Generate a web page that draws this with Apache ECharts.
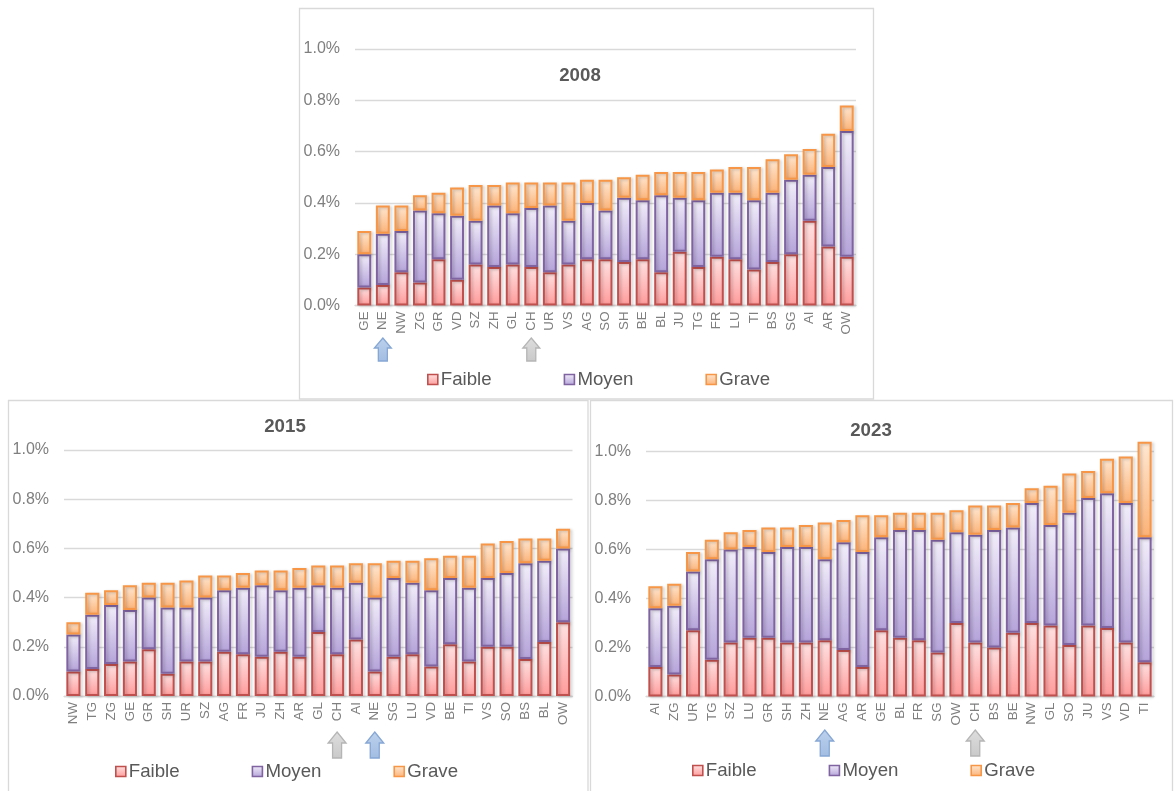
<!DOCTYPE html>
<html>
<head>
<meta charset="utf-8">
<script src="https://cdn.jsdelivr.net/npm/echarts@6/dist/echarts.min.js"></script>
<style>
  html, body { margin: 0; padding: 0; background: #ffffff; }
  #chart { width: 1176px; height: 791px; }
</style>
</head>
<body>
<div id="chart"></div>
<script>
// Share of the population (%) by severity level, per canton, sorted by total.
const severities = ['Faible', 'Moyen', 'Grave'];

const cantons2008 = ['GE','NE','NW','ZG','GR','VD','SZ','ZH','GL','CH','UR','VS','AG','SO','SH','BE','BL','JU','TG','FR','LU','TI','BS','SG','AI','AR','OW'];
const faible2008  = [0.07,0.08,0.13,0.09,0.18,0.10,0.16,0.15,0.16,0.15,0.13,0.16,0.18,0.18,0.17,0.18,0.13,0.21,0.15,0.19,0.18,0.14,0.17,0.20,0.33,0.23,0.19];
const moyen2008   = [0.13,0.20,0.16,0.28,0.18,0.25,0.17,0.24,0.20,0.23,0.26,0.17,0.22,0.19,0.25,0.23,0.30,0.21,0.26,0.25,0.26,0.27,0.27,0.29,0.18,0.31,0.49];
const grave2008   = [0.09,0.11,0.10,0.06,0.08,0.11,0.14,0.08,0.12,0.10,0.09,0.15,0.09,0.12,0.08,0.10,0.09,0.10,0.11,0.09,0.10,0.13,0.13,0.10,0.10,0.13,0.10];

const cantons2015 = ['NW','TG','ZG','GE','GR','SH','UR','SZ','AG','FR','JU','ZH','AR','GL','CH','AI','NE','SG','LU','VD','BE','TI','VS','SO','BS','BL','OW'];
const faible2015  = [0.10,0.11,0.13,0.14,0.19,0.09,0.14,0.14,0.18,0.17,0.16,0.18,0.16,0.26,0.17,0.23,0.10,0.16,0.17,0.12,0.21,0.14,0.20,0.20,0.15,0.22,0.30];
const moyen2015   = [0.15,0.22,0.24,0.21,0.21,0.27,0.22,0.26,0.25,0.27,0.29,0.25,0.28,0.19,0.27,0.23,0.30,0.32,0.29,0.31,0.27,0.30,0.28,0.30,0.39,0.33,0.30];
const grave2015   = [0.05,0.09,0.06,0.10,0.06,0.10,0.11,0.09,0.06,0.06,0.06,0.08,0.08,0.08,0.09,0.08,0.14,0.07,0.09,0.13,0.09,0.13,0.14,0.13,0.10,0.09,0.08];

const cantons2023 = ['AI','ZG','UR','TG','SZ','LU','GR','SH','ZH','NE','AG','AR','GE','BL','FR','SG','OW','CH','BS','BE','NW','GL','SO','JU','VS','VD','TI'];
const faible2023  = [0.12,0.09,0.27,0.15,0.22,0.24,0.24,0.22,0.22,0.23,0.19,0.12,0.27,0.24,0.23,0.18,0.30,0.22,0.20,0.26,0.30,0.29,0.21,0.29,0.28,0.22,0.14];
const moyen2023   = [0.24,0.28,0.24,0.41,0.38,0.37,0.35,0.39,0.39,0.33,0.44,0.47,0.38,0.44,0.45,0.46,0.37,0.44,0.48,0.43,0.49,0.41,0.54,0.52,0.55,0.57,0.51];
const grave2023   = [0.09,0.09,0.08,0.08,0.07,0.07,0.10,0.08,0.09,0.15,0.09,0.15,0.09,0.07,0.07,0.11,0.09,0.12,0.10,0.10,0.06,0.16,0.16,0.11,0.14,0.19,0.39];

// Value axis ticks (percent)
const yMin = 0, yMax = 1.0, yStep = 0.2;

// Cantons flagged with arrows under the axis
const flagged = { blue: 'NE', grey: 'CH' };

const panels = [
  { title: '2008', cats: cantons2008, vals: [faible2008, moyen2008, grave2008],
    grid: { left: 355, top: 49, width: 501, height: 256.5 },
    frame: [299.5, 8.5, 574, 390.5], titleX: 580, titleY: 76,
    legendLeft: 422, legendTop: 365, arrowTop: 338, arrow: { w: 17, h: 23, head: 10, shaft: 9 } },
  { title: '2015', cats: cantons2015, vals: [faible2015, moyen2015, grave2015],
    grid: { left: 64, top: 450, width: 508.5, height: 246 },
    frame: [8.5, 400.5, 579.5, 400], titleX: 285, titleY: 427,
    legendLeft: 110, legendTop: 757, arrowTop: 732, arrow: { w: 18, h: 26, head: 11, shaft: 9 } },
  { title: '2023', cats: cantons2023, vals: [faible2023, moyen2023, grave2023],
    grid: { left: 646, top: 451.5, width: 508, height: 245 },
    frame: [590.5, 400.5, 582, 400], titleX: 871, titleY: 431,
    legendLeft: 687, legendTop: 756, arrowTop: 730, arrow: { w: 18, h: 26, head: 11, shaft: 9 } }
];

function vgrad(top, bottom) {
  return new echarts.graphic.LinearGradient(0, 0, 0, 1, [
    { offset: 0, color: top }, { offset: 1, color: bottom }
  ]);
}
const look = {
  Faible: { fill: vgrad('#ffe2e2', '#ff9b9b'), border: '#c0504d' },
  Moyen:  { fill: vgrad('#f2eefa', '#b4a3d9'), border: '#8064a2' },
  Grave:  { fill: vgrad('#ffe8d3', '#fbb277'), border: '#f79646' }
};

const GRID_GREY = '#d9d9d9';
const TEXT_GREY = '#7f7f7f';
const FONT = '"Liberation Sans", Arial, sans-serif';

const option = {
  animation: false,
  backgroundColor: '#ffffff',
  textStyle: { fontFamily: FONT },
  grid: panels.map(p => Object.assign({ containLabel: false }, p.grid)),
  xAxis: panels.map((p, i) => ({
    type: 'category', gridIndex: i, data: p.cats,
    axisLine: { lineStyle: { color: GRID_GREY, width: 1.3 } },
    axisTick: { show: false },
    axisLabel: { interval: 0, rotate: 90, margin: 6, fontSize: 13.3, color: TEXT_GREY, fontFamily: FONT }
  })),
  yAxis: panels.map((p, i) => ({
    type: 'value', gridIndex: i, min: yMin, max: yMax, interval: yStep,
    axisLine: { show: false }, axisTick: { show: false },
    splitLine: { lineStyle: { color: GRID_GREY, width: 1.3 } },
    axisLabel: { margin: 15, fontSize: 16, color: TEXT_GREY, fontFamily: FONT,
                 formatter: v => v.toFixed(1) + '%' }
  })),
  legend: panels.map(p => ({
    left: p.legendLeft, top: p.legendTop,
    data: severities, icon: 'rect', itemWidth: 10, itemHeight: 10, itemGap: 72,
    itemStyle: { borderWidth: 1.6, shadowBlur: 0, shadowOffsetX: 0, shadowOffsetY: 0 },
    textStyle: { fontSize: 18.67, color: '#595959', fontFamily: FONT, padding: [0, 0, 0, -2] },
    selectedMode: false
  })),
  series: []
};

panels.forEach((p, i) => {
  severities.forEach((name, k) => {
    option.series.push({
      type: 'bar', name, stack: 'total' + i,
      xAxisIndex: i, yAxisIndex: i,
      data: p.vals[k],
      barCategoryGap: '25%',
      clip: false,
      emphasis: { disabled: true },
      itemStyle: {
        color: look[name].fill, borderColor: look[name].border, borderWidth: 2,
        shadowColor: 'rgba(0,0,0,0.22)', shadowBlur: 3, shadowOffsetX: 2, shadowOffsetY: 1
      }
    });
  });
});

const chart = echarts.init(document.getElementById('chart'), null, { renderer: 'canvas' });
chart.setOption(option);

// Frames, titles and the arrows under the flagged cantons
function upArrow(cx, top, a, fill, stroke) {
  const hw = a.w / 2, sw = a.shaft / 2;
  return {
    type: 'polygon', z: 10,
    shape: { points: [
      [cx, top], [cx + hw, top + a.head], [cx + sw, top + a.head], [cx + sw, top + a.h],
      [cx - sw, top + a.h], [cx - sw, top + a.head], [cx - hw, top + a.head]
    ] },
    style: { fill, stroke, lineWidth: 1.3 }
  };
}

const graphics = [];
panels.forEach((p, i) => {
  const [fx, fy, fw, fh] = p.frame;
  graphics.push({ type: 'rect', z: -1, silent: true,
    shape: { x: fx, y: fy, width: fw, height: fh },
    style: { fill: '#ffffff', stroke: GRID_GREY, lineWidth: 1.3 } });
  graphics.push({ type: 'text', z: 5, x: p.titleX, y: p.titleY,
    style: { text: p.title, fill: '#595959', font: 'bold 18.67px ' + FONT,
             textAlign: 'center', textVerticalAlign: 'middle' } });
  const bx = chart.convertToPixel({ xAxisIndex: i }, flagged.blue);
  const gx = chart.convertToPixel({ xAxisIndex: i }, flagged.grey);
  graphics.push(upArrow(bx, p.arrowTop, p.arrow, vgrad('#bcd1ec', '#a2bde2'), '#86a7d4'));
  graphics.push(upArrow(gx, p.arrowTop, p.arrow, vgrad('#dedede', '#c9c9c9'), '#b5b5b5'));
});
chart.setOption({ graphic: graphics });
</script>
</body>
</html>
